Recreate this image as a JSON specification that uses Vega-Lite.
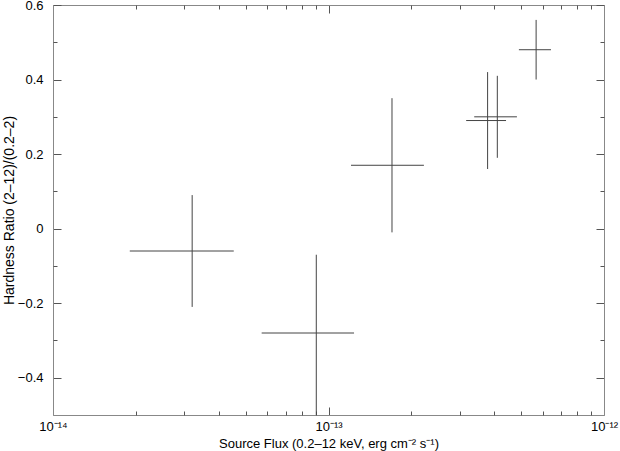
{
  "$schema": "https://vega.github.io/schema/vega-lite/v6.json",
  "width": 551,
  "height": 410,
  "autosize": {"type": "none"},
  "padding": {"left": 53, "top": 5, "right": 16, "bottom": 36},
  "background": "white",
  "config": {
    "view": {"stroke": null},
    "font": "Liberation Sans",
    "axis": {
      "grid": false,
      "labelFont": "Liberation Sans",
      "titleFont": "Liberation Sans",
      "labelFontSize": 13,
      "titleFontSize": 13,
      "titleFontWeight": "normal",
      "labelColor": "#000",
      "titleColor": "#000",
      "domainColor": "#888",
      "tickColor": "#555",
      "labelFlush": false,
      "labelOverlap": false
    }
  },
  "data": {
    "values": [
      {"x": 3.2e-14, "xlo": 1.9e-14, "xhi": 4.53e-14, "y": -0.06, "ylo": -0.21, "yhi": 0.09},
      {"x": 9.03e-14, "xlo": 5.72e-14, "xhi": 1.238e-13, "y": -0.28, "ylo": -0.55, "yhi": -0.07},
      {"x": 1.70e-13, "xlo": 1.207e-13, "xhi": 2.22e-13, "y": 0.17, "ylo": -0.01, "yhi": 0.35},
      {"x": 3.78e-13, "xlo": 3.16e-13, "xhi": 4.41e-13, "y": 0.29, "ylo": 0.16, "yhi": 0.42},
      {"x": 4.10e-13, "xlo": 3.38e-13, "xhi": 4.83e-13, "y": 0.30, "ylo": 0.19, "yhi": 0.41},
      {"x": 5.67e-13, "xlo": 4.91e-13, "xhi": 6.42e-13, "y": 0.48, "ylo": 0.40, "yhi": 0.56}
    ]
  },
  "resolve": {"axis": {"x": "independent", "y": "independent"}},
  "layer": [
    {
      "mark": {"type": "rule", "color": "#444", "strokeWidth": 1, "clip": true},
      "encoding": {
        "x": {
          "field": "xlo", "type": "quantitative",
          "scale": {"type": "log", "domain": [1e-14, 1e-12], "nice": false},
          "axis": {
            "orient": "bottom", "ticks": false, "domain": false,
            "values": [1e-14, 1e-13, 1e-12],
            "labelExpr": "datum.value < 5e-14 ? '10⁻¹⁴' : (datum.value < 5e-13 ? '10⁻¹³' : '10⁻¹²')",
            "labelPadding": 5,
            "title": "Source Flux (0.2–12 keV, erg cm⁻² s⁻¹)",
            "titlePadding": 4
          }
        },
        "x2": {"field": "xhi"},
        "y": {
          "field": "y", "type": "quantitative",
          "scale": {"domain": [-0.5, 0.6], "nice": false, "zero": false},
          "axis": {
            "orient": "left", "ticks": false, "domain": false,
            "values": [-0.4, -0.2, 0, 0.2, 0.4, 0.6],
            "format": ".1~f",
            "labelPadding": 10,
            "title": "Hardness Ratio (2–12)/(0.2–2)",
            "titleFontSize": 14,
            "titlePadding": 1
          }
        }
      }
    },
    {
      "mark": {"type": "rule", "color": "#444", "strokeWidth": 1, "clip": true},
      "encoding": {
        "x": {
          "field": "x", "type": "quantitative",
          "scale": {"type": "log", "domain": [1e-14, 1e-12], "nice": false},
          "axis": {
            "orient": "bottom", "labels": false, "title": null,
            "values": [1e-14, 1e-13, 1e-12], "tickSize": -8
          }
        },
        "y": {
          "field": "ylo", "type": "quantitative",
          "scale": {"domain": [-0.5, 0.6], "nice": false, "zero": false},
          "axis": {
            "orient": "left", "labels": false, "title": null,
            "values": [-0.4, -0.2, 0, 0.2, 0.4, 0.6], "tickSize": -8
          }
        },
        "y2": {"field": "yhi"}
      }
    },
    {
      "mark": {"type": "rule", "opacity": 0},
      "encoding": {
        "x": {
          "field": "x", "type": "quantitative",
          "scale": {"type": "log", "domain": [1e-14, 1e-12], "nice": false},
          "axis": {
            "orient": "top", "labels": false, "title": null,
            "values": [1e-14, 1e-13, 1e-12], "tickSize": -8
          }
        },
        "y": {
          "field": "y", "type": "quantitative",
          "scale": {"domain": [-0.5, 0.6], "nice": false, "zero": false},
          "axis": {
            "orient": "right", "labels": false, "title": null,
            "values": [-0.4, -0.2, 0, 0.2, 0.4, 0.6], "tickSize": -8
          }
        }
      }
    },
    {
      "mark": {"type": "rule", "opacity": 0},
      "encoding": {
        "x": {
          "field": "x", "type": "quantitative",
          "scale": {"type": "log", "domain": [1e-14, 1e-12], "nice": false},
          "axis": {
            "orient": "bottom", "labels": false, "title": null, "domain": false,
            "values": [2e-14, 3e-14, 4e-14, 5e-14, 6e-14, 7e-14, 8e-14, 9e-14, 2e-13, 3e-13, 4e-13, 5e-13, 6e-13, 7e-13, 8e-13, 9e-13],
            "tickSize": -4
          }
        },
        "y": {
          "field": "y", "type": "quantitative",
          "scale": {"domain": [-0.5, 0.6], "nice": false, "zero": false},
          "axis": {
            "orient": "left", "labels": false, "title": null, "domain": false,
            "values": [-0.3, -0.1, 0.1, 0.3, 0.5], "tickSize": -4
          }
        }
      }
    },
    {
      "mark": {"type": "rule", "opacity": 0},
      "encoding": {
        "x": {
          "field": "x", "type": "quantitative",
          "scale": {"type": "log", "domain": [1e-14, 1e-12], "nice": false},
          "axis": {
            "orient": "top", "labels": false, "title": null, "domain": false,
            "values": [2e-14, 3e-14, 4e-14, 5e-14, 6e-14, 7e-14, 8e-14, 9e-14, 2e-13, 3e-13, 4e-13, 5e-13, 6e-13, 7e-13, 8e-13, 9e-13],
            "tickSize": -4
          }
        },
        "y": {
          "field": "y", "type": "quantitative",
          "scale": {"domain": [-0.5, 0.6], "nice": false, "zero": false},
          "axis": {
            "orient": "right", "labels": false, "title": null, "domain": false,
            "values": [-0.3, -0.1, 0.1, 0.3, 0.5], "tickSize": -4
          }
        }
      }
    }
  ]
}
